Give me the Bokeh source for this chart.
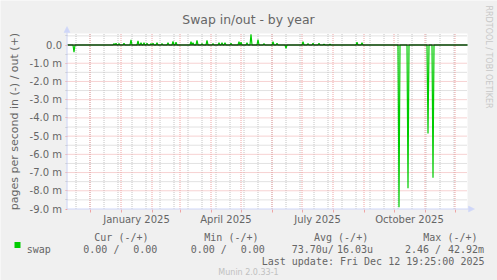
import math
import pandas as pd
from bokeh.plotting import figure
from bokeh.models import (FixedTicker, Label, BoxAnnotation, Arrow, NormalHead,
                          LinearAxis, DatetimeAxis, Range1d)
from bokeh.embed import file_html
from bokeh.resources import INLINE

# ---------------- data ----------------
series_name = "swap"
# daily values, in milli pages/s (negative = swap in, positive = swap out)
spike_dates = [
    "2024-11-15", "2024-12-25", "2024-12-27", "2024-12-30", "2025-01-04", "2025-01-11",
    "2025-01-18", "2025-01-21", "2025-01-24", "2025-01-27", "2025-01-31", "2025-02-02",
    "2025-02-06", "2025-02-11", "2025-02-17", "2025-02-22", "2025-02-25", "2025-03-12",
    "2025-03-14", "2025-03-18", "2025-03-23", "2025-03-28", "2025-04-03", "2025-04-09",
    "2025-04-12", "2025-04-15", "2025-04-21", "2025-04-29", "2025-05-01", "2025-05-07",
    "2025-05-11", "2025-05-18", "2025-05-24", "2025-06-02", "2025-06-06", "2025-06-15",
    "2025-07-02", "2025-07-07", "2025-07-12", "2025-07-18", "2025-07-23", "2025-07-29",
    "2025-08-25", "2025-08-30", "2025-10-06", "2025-10-15", "2025-11-04", "2025-11-09",
]
spike_values = [
    -0.40, 0.08, 0.10, 0.08, 0.10, 0.28,
    0.22, 0.12, 0.12, 0.10, 0.08, 0.10,
    0.12, 0.07, 0.12, 0.20, 0.15, 0.18,
    0.12, 0.25, 0.08, 0.25, 0.07, 0.12,
    0.12, 0.12, 0.10, 0.18, 0.15, 0.12,
    0.58, 0.29, 0.07, 0.18, 0.10, -0.18,
    0.18, 0.08, 0.10, 0.10, 0.05, 0.05,
    0.15, 0.12, -8.90, -7.86, -4.85, -7.29,
]
y_ticks = [0, -1, -2, -3, -4, -5, -6, -7, -8, -9]
y_tick_labels = ["0.0", "-1.0 m", "-2.0 m", "-3.0 m", "-4.0 m", "-5.0 m",
                 "-6.0 m", "-7.0 m", "-8.0 m", "-9.0 m"]
x_label_months = ["2025-01-01", "2025-04-01", "2025-07-01", "2025-10-01"]
x_tick_labels = ["January 2025", "April 2025", "July 2025", "October 2025"]
legend_headers = ["Cur (-/+)", "Min (-/+)", "Avg (-/+)", "Max (-/+)"]
legend_in = ["0.00 /", "0.00 /", "73.70u/", "2.46 /"]
legend_out = ["0.00", "0.00", "16.03u", "42.92m"]
title_text = "Swap in/out - by year"
y_label_text = "pages per second in (-) / out (+)"
last_update = "Last update: Fri Dec 12 19:25:00 2025"
watermark = "RRDTOOL / TOBI OETIKER"
footer = "Munin 2.0.33-1"

# ---------------- layout ----------------
W, H = 497, 280
FL, FR, FT = 67, 467, 33          # graph area in page pixels
ZERO_PY, NINE_PY = 44.5, 208.5    # pixel rows of 0 and -9
DAY = 86400000

def ms(s):
    return int(pd.Timestamp(s).value // 10**6)

start_ms = ms("2024-11-08 12:00")
end_ms = ms("2025-12-13 12:00")
Y0 = -9.0

def sx(px):
    return start_ms + (px - FL) * (end_ms - start_ms) / (FR - FL)

def sy(py):
    return (ZERO_PY - py) * 9.0 / (NINE_PY - ZERO_PY)

Y1 = sy(FT)

FONT_C = "#666666"
AXIS_C = "#CFD6F8"
RED = "#EFA4A4"
GRAY = "#C4C4C4"
GREEN = "#00CC00"

# line through the daily readings, flat at zero elsewhere
ev = sorted(zip([ms(d) for d in spike_dates], spike_values))
xs, ys = [start_ms], [0.0]
for t, v in ev:
    if t - DAY > xs[-1]:
        xs.append(t - DAY); ys.append(0.0)
    xs.append(t); ys.append(v)
    xs.append(t + DAY); ys.append(0.0)
xs.append(end_ms); ys.append(0.0)

month_starts = [ms(d) for d in pd.date_range("2024-12-01", "2025-12-01", freq="MS")]
biweekly = [ms(d) for d in pd.date_range("2024-11-17", "2025-12-13", freq="14D")]
label_pos = []
for m in x_label_months:
    a = pd.Timestamp(m)
    b = a + pd.offsets.MonthBegin(1)
    label_pos.append((ms(a) + ms(b)) // 2)
y_minor = [0.5 - i for i in range(10)]

p = figure(width=W, height=H, title=None,
           x_range=Range1d(sx(0), sx(W)), y_range=Range1d(sy(H), sy(0)),
           x_axis_location=None, y_axis_location=None,
           output_backend="svg", toolbar_location=None,
           min_border=0, min_border_left=0, min_border_right=0,
           min_border_top=0, min_border_bottom=0,
           background_fill_color="#F0F0F0", border_fill_color="#F0F0F0",
           outline_line_color=None)
p.grid.visible = False

# white canvas of the graph
p.add_layout(BoxAnnotation(left=start_ms, right=end_ms, bottom=Y0, top=Y1,
                           fill_color="white", fill_alpha=1, line_color=None,
                           level="underlay"))

# grid lines (minor gray, major red), dotted like rrdtool
def vlines(ticks, col):
    n = len(ticks)
    p.segment(x0=ticks, y0=[Y0] * n, x1=ticks, y1=[Y1] * n,
              line_color=col, line_width=1, line_dash="1 1")

def hlines(ticks, col):
    n = len(ticks)
    p.segment(x0=[start_ms] * n, y0=ticks, x1=[end_ms] * n, y1=ticks,
              line_color=col, line_width=1, line_dash="1 1")

vlines(biweekly, GRAY)
hlines(y_minor, GRAY)
vlines(month_starts, RED)
hlines(y_ticks[:-1], RED)

AX_X = sx(66.5)

# y axis (fixed at the left edge of the graph)
yax = LinearAxis(fixed_location=AX_X, bounds=(Y0, Y1))
yax.ticker = FixedTicker(ticks=y_ticks, minor_ticks=y_minor)
yax.major_label_overrides = dict(zip(y_ticks, y_tick_labels))
yax.major_label_text_font = "DejaVu Sans"
yax.major_label_text_font_size = "10px"
yax.major_label_text_color = FONT_C
yax.major_label_standoff = 3
yax.major_tick_out = 2
yax.major_tick_in = 0
yax.major_tick_line_color = RED
yax.minor_tick_out = 2
yax.minor_tick_in = 0
yax.minor_tick_line_color = GRAY
yax.axis_line_color = None
p.add_layout(yax, "left")

# x axis (fixed at the bottom of the graph)
xax = DatetimeAxis(fixed_location=Y0, bounds=(start_ms, end_ms))
xax.ticker = FixedTicker(ticks=label_pos, minor_ticks=month_starts)
xax.major_label_overrides = dict(zip(label_pos, x_tick_labels))
xax.major_label_text_font = "DejaVu Sans"
xax.major_label_text_font_size = "10px"
xax.major_label_text_color = FONT_C
xax.major_label_standoff = 2
xax.major_tick_out = 0
xax.major_tick_in = 0
xax.minor_tick_out = 3
xax.minor_tick_in = 0
xax.minor_tick_line_color = RED
xax.axis_line_color = None
p.add_layout(xax, "below")

# data
p.line(xs, ys, line_color=GREEN, line_width=1.2)
p.segment(x0=[start_ms], y0=[0], x1=[end_ms], y1=[0], line_color="black", line_width=1.2)

# axis lines with arrows
p.add_layout(Arrow(end=NormalHead(size=6, fill_color=AXIS_C, line_color=AXIS_C, line_width=0.5),
                   x_start=AX_X, y_start=Y0, x_end=AX_X, y_end=sy(26),
                   line_color=AXIS_C, line_width=1))
p.add_layout(Arrow(end=NormalHead(size=6, fill_color=AXIS_C, line_color=AXIS_C, line_width=0.5),
                   x_start=AX_X, y_start=Y0, x_end=sx(474), y_end=Y0,
                   line_color=AXIS_C, line_width=1))

# texts
def lab(x, y, text, size, font="DejaVu Sans", color=FONT_C, align="left",
        baseline="alphabetic", angle=0.0):
    p.add_layout(Label(x=sx(x), y=sy(y), text=text, text_font=font,
                       text_font_size=size, text_color=color, text_align=align,
                       text_baseline=baseline, angle=angle))

lab(248, 18.5, title_text, "12.4px", align="center")
lab(13.5, 121, y_label_text, "11px", align="center", angle=math.pi / 2)
lab(488, 56.5, watermark, "8px", color="#C8C8C8", align="center",
    baseline="middle", angle=-math.pi / 2)

MONO = "DejaVu Sans Mono"
head_x = [93.8, 203.8, 313.5, 422.8]
in_x = [82.8, 190.2, 291.2, 404.5]
out_x = [132.8, 240.2, 336.5, 447.5]
for i in range(4):
    lab(head_x[i], 237, legend_headers[i], "10px", font=MONO)
    lab(in_x[i], 248.5, legend_in[i], "10px", font=MONO)
    lab(out_x[i], 248.5, legend_out[i], "10px", font=MONO)
lab(26.2, 248.5, series_name, "10px", font=MONO)
lab(261.2, 261, last_update, "10px", font=MONO)
lab(248, 271.8, footer, "8px", color="#C0C0C0", align="center")

p.add_layout(BoxAnnotation(left=sx(14), right=sx(20), top=sy(241.5), bottom=sy(247.5),
                           fill_color=GREEN, fill_alpha=1, line_color=None))

open("out.html", "w").write(file_html(p, INLINE))
